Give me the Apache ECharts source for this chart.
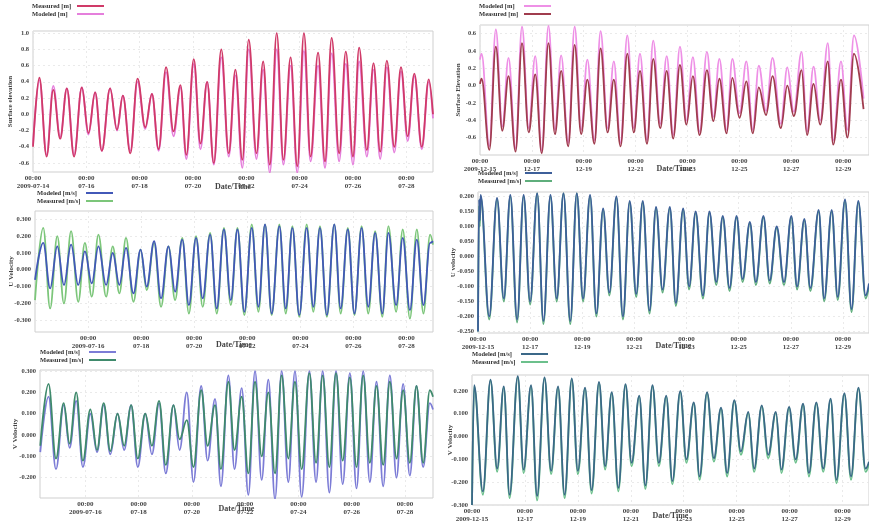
<!DOCTYPE html>
<html><head><meta charset="utf-8">
<script src="https://cdn.jsdelivr.net/npm/echarts@6/dist/echarts.min.js"></script>
<style>html,body{margin:0;padding:0;background:#fff}#c{width:869px;height:523px}</style>
</head><body><div id="c"></div>
<script>
// ---------- tick labels ----------
const xTicksLeft = [0, 2, 4, 6, 8, 10, 12, 14];
const xLabelsLeft = ['2009-07-14', '07-16', '07-18', '07-20', '07-22', '07-24', '07-26', '07-28'];
const xTicksLeftLate = [2, 4, 6, 8, 10, 12, 14];
const xLabelsLeftLate = ['2009-07-16', '07-18', '07-20', '07-22', '07-24', '07-26', '07-28'];
const xTicksRight = [0, 2, 4, 6, 8, 10, 12, 14];
const xLabelsRight = ['2009-12-15', '12-17', '12-19', '12-21', '12-23', '12-25', '12-27', '12-29'];
const yTicksP1 = [-0.6, -0.4, -0.2, 0, 0.2, 0.4, 0.6, 0.8, 1.0];
const yTicksP2 = [-0.6, -0.4, -0.2, 0, 0.2, 0.4, 0.6];
const yTicksP3 = [-0.3, -0.2, -0.1, 0, 0.1, 0.2, 0.3];
const yTicksP4 = [-0.25, -0.2, -0.15, -0.1, -0.05, 0, 0.05, 0.1, 0.15, 0.2];
const yTicksP5 = [-0.2, -0.1, 0, 0.1, 0.2, 0.3];
const yTicksP6 = [-0.3, -0.2, -0.1, 0, 0.1, 0.2];

// ---------- Panel 1: surface elevation, July (days since 2009-07-14 00:00) ----------
const p1Time = [0, 0.24, 0.51, 0.76, 1.02, 1.27, 1.54, 1.83, 2.08, 2.33, 2.58, 2.89, 3.15, 3.37, 3.65, 3.92, 4.21, 4.46, 4.71, 4.99, 5.27, 5.53, 5.75, 6.03, 6.28, 6.53, 6.78, 7.06, 7.34, 7.59, 7.85, 8.09, 8.38, 8.63, 8.88, 9.14, 9.39, 9.66, 9.91, 10.16, 10.41, 10.69, 10.95, 11.20, 11.48, 11.73, 12.0, 12.23, 12.52, 12.77, 13.02, 13.27, 13.55, 13.80, 14.05, 14.30, 14.58, 14.84, 15.0];
const p1Measured = [-0.40, 0.45, -0.52, 0.30, -0.30, 0.32, -0.52, 0.33, -0.23, 0.27, -0.45, 0.32, -0.19, 0.23, -0.48, 0.44, -0.16, 0.25, -0.43, 0.58, -0.21, 0.36, -0.50, 0.68, -0.36, 0.40, -0.60, 0.80, -0.48, 0.55, -0.56, 0.92, -0.48, 0.65, -0.62, 1.00, -0.56, 0.70, -0.64, 1.00, -0.52, 0.76, -0.58, 0.94, -0.48, 0.77, -0.52, 0.82, -0.44, 0.63, -0.46, 0.66, -0.40, 0.58, -0.27, 0.50, -0.40, 0.43, 0.00];
const p1Modeled = [-0.38, 0.42, -0.50, 0.35, -0.28, 0.32, -0.50, 0.33, -0.25, 0.27, -0.45, 0.32, -0.20, 0.23, -0.45, 0.40, -0.18, 0.25, -0.45, 0.52, -0.27, 0.33, -0.55, 0.62, -0.43, 0.40, -0.62, 0.70, -0.52, 0.48, -0.66, 0.80, -0.55, 0.55, -0.72, 0.80, -0.62, 0.60, -0.72, 0.78, -0.58, 0.60, -0.66, 0.75, -0.58, 0.62, -0.62, 0.65, -0.52, 0.55, -0.55, 0.58, -0.47, 0.53, -0.33, 0.47, -0.43, 0.40, -0.05];

// ---------- Panel 2: surface elevation, December (days since 2009-12-15 00:00) ----------
const p2Time = [0, 0.06, 0.36, 0.61, 0.86, 1.10, 1.37, 1.62, 1.88, 2.13, 2.38, 2.64, 2.89, 3.13, 3.40, 3.65, 3.90, 4.14, 4.41, 4.65, 4.92, 5.16, 5.42, 5.68, 5.93, 6.17, 6.44, 6.68, 6.95, 7.20, 7.45, 7.71, 7.96, 8.21, 8.47, 8.75, 9.00, 9.23, 9.51, 9.73, 10.01, 10.27, 10.52, 10.75, 11.03, 11.28, 11.60, 11.85, 12.10, 12.40, 12.61, 12.86, 13.12, 13.41, 13.62, 13.92, 14.17, 14.42, 14.79];
const p2Modeled = [0.30, 0.37, -0.70, 0.65, -0.47, 0.32, -0.72, 0.68, -0.49, 0.34, -0.75, 0.69, -0.51, 0.35, -0.66, 0.68, -0.51, 0.30, -0.63, 0.63, -0.49, 0.28, -0.66, 0.58, -0.49, 0.37, -0.63, 0.52, -0.44, 0.34, -0.57, 0.45, -0.40, 0.33, -0.53, 0.39, -0.36, 0.31, -0.51, 0.31, -0.32, 0.28, -0.51, 0.23, -0.29, 0.32, -0.44, 0.21, -0.30, 0.39, -0.53, 0.22, -0.40, 0.49, -0.63, 0.28, -0.51, 0.58, -0.15];
const p2Measured = [0.02, 0.08, -0.74, 0.45, -0.52, 0.11, -0.76, 0.49, -0.54, 0.13, -0.78, 0.49, -0.56, 0.17, -0.70, 0.47, -0.56, 0.07, -0.67, 0.43, -0.54, 0.07, -0.70, 0.37, -0.54, 0.17, -0.67, 0.31, -0.49, 0.17, -0.61, 0.24, -0.45, 0.11, -0.57, 0.18, -0.41, 0.08, -0.55, 0.09, -0.37, 0.05, -0.55, -0.02, -0.34, 0.11, -0.49, 0.00, -0.35, 0.18, -0.57, 0.02, -0.45, 0.28, -0.68, 0.07, -0.60, 0.37, -0.27];

// ---------- Panel 3: U velocity, July ----------
const p3Time = [0, 0.31, 0.57, 0.84, 1.09, 1.36, 1.63, 1.88, 2.14, 2.39, 2.68, 2.93, 3.18, 3.43, 3.71, 3.98, 4.21, 4.49, 4.75, 5.03, 5.28, 5.55, 5.80, 6.07, 6.32, 6.60, 6.85, 7.12, 7.38, 7.63, 7.89, 8.17, 8.42, 8.67, 8.92, 9.21, 9.45, 9.70, 9.96, 10.24, 10.49, 10.74, 11.00, 11.28, 11.52, 11.79, 12.04, 12.31, 12.56, 12.82, 13.09, 13.32, 13.61, 13.86, 14.13, 14.39, 14.64, 14.89, 15.0];
const p3Modeled = [-0.06, 0.16, -0.11, 0.14, -0.09, 0.15, -0.09, 0.11, -0.08, 0.14, -0.09, 0.10, -0.09, 0.13, -0.14, 0.12, -0.10, 0.17, -0.17, 0.14, -0.13, 0.18, -0.21, 0.19, -0.17, 0.21, -0.23, 0.24, -0.18, 0.24, -0.25, 0.25, -0.22, 0.27, -0.26, 0.26, -0.23, 0.25, -0.27, 0.25, -0.22, 0.25, -0.27, 0.27, -0.23, 0.24, -0.26, 0.25, -0.22, 0.22, -0.26, 0.22, -0.21, 0.19, -0.24, 0.18, -0.21, 0.16, 0.17];
const p3Measured = [-0.18, 0.25, -0.23, 0.20, -0.20, 0.23, -0.19, 0.16, -0.16, 0.21, -0.16, 0.14, -0.14, 0.19, -0.19, 0.12, -0.12, 0.16, -0.22, 0.14, -0.18, 0.19, -0.26, 0.20, -0.22, 0.22, -0.26, 0.25, -0.21, 0.25, -0.27, 0.27, -0.25, 0.27, -0.27, 0.27, -0.26, 0.26, -0.28, 0.27, -0.25, 0.26, -0.28, 0.27, -0.26, 0.25, -0.27, 0.26, -0.26, 0.23, -0.28, 0.26, -0.25, 0.24, -0.29, 0.24, -0.26, 0.21, 0.15];

// ---------- Panel 4: U velocity, December ----------
const p4Time = [0, 0.04, 0.07, 0.10, 0.43, 0.73, 0.99, 1.24, 1.50, 1.75, 2.00, 2.27, 2.51, 2.78, 3.02, 3.28, 3.54, 3.79, 4.03, 4.30, 4.54, 4.80, 5.04, 5.31, 5.56, 5.82, 6.07, 6.32, 6.58, 6.83, 7.08, 7.36, 7.59, 7.87, 8.10, 8.35, 8.63, 8.88, 9.14, 9.39, 9.65, 9.92, 10.15, 10.43, 10.66, 10.95, 11.19, 11.46, 11.74, 12.02, 12.24, 12.52, 12.75, 13.07, 13.28, 13.57, 13.80, 14.08, 14.33, 14.59, 14.87, 15.0];
const p4Modeled = [-0.25, 0.19, 0.12, 0.205, -0.20, 0.195, -0.14, 0.205, -0.21, 0.205, -0.15, 0.21, -0.215, 0.205, -0.14, 0.21, -0.215, 0.21, -0.14, 0.205, -0.19, 0.16, -0.12, 0.20, -0.20, 0.185, -0.125, 0.185, -0.18, 0.165, -0.11, 0.165, -0.155, 0.16, -0.10, 0.15, -0.13, 0.15, -0.085, 0.135, -0.105, 0.135, -0.075, 0.115, -0.085, 0.135, -0.08, 0.10, -0.085, 0.135, -0.10, 0.125, -0.105, 0.155, -0.14, 0.155, -0.135, 0.19, -0.175, 0.185, -0.13, -0.09];
const p4Measured = [-0.25, 0.17, 0.10, 0.20, -0.21, 0.19, -0.15, 0.20, -0.22, 0.20, -0.16, 0.21, -0.225, 0.20, -0.15, 0.21, -0.225, 0.21, -0.15, 0.20, -0.20, 0.155, -0.13, 0.195, -0.21, 0.18, -0.135, 0.18, -0.19, 0.16, -0.12, 0.16, -0.165, 0.155, -0.11, 0.145, -0.14, 0.145, -0.095, 0.13, -0.115, 0.13, -0.085, 0.11, -0.095, 0.13, -0.09, 0.095, -0.095, 0.13, -0.11, 0.12, -0.115, 0.15, -0.15, 0.15, -0.145, 0.185, -0.185, 0.18, -0.14, -0.10];

// ---------- Panel 5: V velocity, July ----------
const p5Time = [0.31, 0.62, 0.90, 1.19, 1.41, 1.66, 1.91, 2.19, 2.44, 2.69, 2.94, 3.21, 3.46, 3.72, 3.97, 4.25, 4.50, 4.77, 5.02, 5.31, 5.54, 5.81, 6.06, 6.35, 6.59, 6.87, 7.09, 7.37, 7.60, 7.87, 8.12, 8.37, 8.62, 8.87, 9.12, 9.37, 9.62, 9.87, 10.12, 10.41, 10.66, 10.91, 11.16, 11.41, 11.66, 11.93, 12.18, 12.43, 12.68, 12.93, 13.18, 13.43, 13.68, 13.93, 14.18, 14.43, 14.68, 14.93, 15.05];
const p5Modeled = [-0.08, 0.18, -0.16, 0.14, -0.06, 0.16, -0.15, 0.10, -0.08, 0.14, -0.09, 0.10, -0.07, 0.14, -0.15, 0.10, -0.09, 0.15, -0.18, 0.14, -0.07, 0.20, -0.22, 0.23, -0.12, 0.17, -0.24, 0.28, -0.16, 0.22, -0.28, 0.30, -0.21, 0.26, -0.30, 0.30, -0.22, 0.30, -0.29, 0.30, -0.22, 0.30, -0.27, 0.30, -0.23, 0.29, -0.25, 0.30, -0.22, 0.25, -0.24, 0.28, -0.20, 0.24, -0.19, 0.23, -0.15, 0.15, 0.12];
const p5Measured = [-0.05, 0.24, -0.11, 0.15, -0.04, 0.20, -0.12, 0.12, -0.07, 0.15, -0.075, 0.10, -0.05, 0.14, -0.11, 0.10, -0.05, 0.16, -0.14, 0.14, -0.02, 0.07, -0.15, 0.21, -0.05, 0.14, -0.16, 0.25, -0.07, 0.18, -0.18, 0.25, -0.10, 0.20, -0.18, 0.28, -0.11, 0.25, -0.16, 0.29, -0.13, 0.28, -0.15, 0.29, -0.12, 0.27, -0.15, 0.28, -0.13, 0.23, -0.14, 0.25, -0.11, 0.21, -0.13, 0.23, -0.13, 0.21, 0.18];

// ---------- Panel 6: V velocity, December ----------
const p6Time = [0, 0.08, 0.41, 0.70, 0.95, 1.20, 1.42, 1.73, 1.95, 2.23, 2.46, 2.74, 2.99, 3.25, 3.50, 3.77, 4.00, 4.27, 4.52, 4.80, 5.03, 5.28, 5.53, 5.80, 6.03, 6.32, 6.55, 6.82, 7.06, 7.34, 7.57, 7.87, 8.10, 8.38, 8.60, 8.88, 9.14, 9.41, 9.64, 9.91, 10.16, 10.44, 10.66, 10.95, 11.19, 11.48, 11.69, 11.98, 12.23, 12.51, 12.73, 13.01, 13.27, 13.55, 13.77, 14.07, 14.32, 14.60, 14.87, 15.0];
const p6Modeled = [-0.30, 0.225, -0.24, 0.25, -0.14, 0.22, -0.255, 0.265, -0.145, 0.225, -0.26, 0.26, -0.15, 0.22, -0.255, 0.255, -0.15, 0.215, -0.235, 0.24, -0.13, 0.195, -0.225, 0.23, -0.115, 0.18, -0.215, 0.225, -0.115, 0.18, -0.195, 0.20, -0.10, 0.15, -0.175, 0.195, -0.095, 0.127, -0.16, 0.16, -0.065, 0.108, -0.14, 0.137, -0.08, 0.108, -0.145, 0.13, -0.10, 0.144, -0.16, 0.15, -0.14, 0.166, -0.19, 0.19, -0.175, 0.215, -0.14, -0.11];
const p6Measured = [-0.30, 0.22, -0.255, 0.245, -0.155, 0.215, -0.27, 0.26, -0.16, 0.22, -0.28, 0.255, -0.165, 0.215, -0.27, 0.25, -0.165, 0.21, -0.25, 0.235, -0.145, 0.19, -0.24, 0.225, -0.13, 0.175, -0.23, 0.22, -0.13, 0.175, -0.21, 0.195, -0.115, 0.145, -0.19, 0.19, -0.11, 0.122, -0.175, 0.155, -0.08, 0.103, -0.155, 0.132, -0.095, 0.103, -0.16, 0.125, -0.115, 0.139, -0.175, 0.145, -0.155, 0.161, -0.205, 0.185, -0.19, 0.21, -0.155, -0.12];

// ---------- layout / styling ----------
const FONT = 'Liberation Serif';
const panels = [
  { grid: {left: 33, top: 31, width: 400, height: 141}, xMin: 0, xMax: 15, xTicks: xTicksLeft, xLabels: xLabelsLeft,
    yMin: -0.71, yMax: 1.025, yTicks: yTicksP1, yDigits: 1, yName: 'Surface elevation', xGap: 11, yGap: 19,
    legend: {left: 32, top: 2, textW: 40},
    series: [{name: 'Measured [m]', t: p1Time, v: p1Measured, color: '#d03a68'},
             {name: 'Modeled [m]', t: p1Time, v: p1Modeled, color: '#e57fdc'}], order: [1, 0] },
  { grid: {left: 480, top: 25, width: 395, height: 130}, xMin: 0, xMax: 15, xTicks: xTicksRight, xLabels: xLabelsRight,
    yMin: -0.8, yMax: 0.7, yTicks: yTicksP2, yDigits: 1, yName: 'Surface Elevation', xGap: 10, yGap: 18,
    legend: {left: 479, top: 2, textW: 40},
    series: [{name: 'Modeled [m]', t: p2Time, v: p2Modeled, color: '#ee90e6'},
             {name: 'Measured [m]', t: p2Time, v: p2Measured, color: '#a03c4e'}], order: [0, 1] },
  { grid: {left: 35, top: 211, width: 398, height: 121}, xMin: 0, xMax: 15, xTicks: xTicksLeftLate, xLabels: xLabelsLeftLate,
    yMin: -0.37, yMax: 0.35, yTicks: yTicksP3, yDigits: 3, yName: 'U Velocity', xGap: 9, yGap: 20,
    legend: {left: 37, top: 189, textW: 44},
    series: [{name: 'Modeled [m/s]', t: p3Time, v: p3Modeled, color: '#4258b8'},
             {name: 'Measured [m/s]', t: p3Time, v: p3Measured, color: '#7cc67a'}], order: [1, 0] },
  { grid: {left: 478, top: 192, width: 395, height: 141}, xMin: 0, xMax: 15, xTicks: xTicksRight, xLabels: xLabelsRight,
    yMin: -0.255, yMax: 0.215, yTicks: yTicksP4, yDigits: 3, yName: 'U velocity', xGap: 9, yGap: 21,
    legend: {left: 478, top: 169, textW: 42},
    series: [{name: 'Modeled [m/s]', t: p4Time, v: p4Modeled, color: '#3d5f9a'},
             {name: 'Measured [m/s]', t: p4Time, v: p4Measured, color: '#5fae7c'}], order: [1, 0] },
  { grid: {left: 40, top: 370, width: 393, height: 128}, xMin: 0.3, xMax: 15.05, xTicks: xTicksLeftLate, xLabels: xLabelsLeftLate,
    yMin: -0.295, yMax: 0.305, yTicks: yTicksP5, yDigits: 3, yName: 'V Velocity', xGap: 7, yGap: 21,
    legend: {left: 40, top: 348, textW: 44},
    series: [{name: 'Modeled [m/s]', t: p5Time, v: p5Modeled, color: '#7c7cd6'},
             {name: 'Measured [m/s]', t: p5Time, v: p5Measured, color: '#3f8a6c'}], order: [0, 1] },
  { grid: {left: 472, top: 375, width: 399, height: 130}, xMin: 0, xMax: 15, xTicks: xTicksRight, xLabels: xLabelsRight,
    yMin: -0.3, yMax: 0.27, yTicks: yTicksP6, yDigits: 3, yName: 'V Velocity', xGap: 7, yGap: 18,
    legend: {left: 472, top: 350, textW: 44},
    series: [{name: 'Modeled [m/s]', t: p6Time, v: p6Modeled, color: '#3b6888'},
             {name: 'Measured [m/s]', t: p6Time, v: p6Measured, color: '#6cc08c'}], order: [1, 0] }
];

const option = {
  animation: false,
  backgroundColor: '#ffffff',
  textStyle: {fontFamily: FONT},
  grid: [], xAxis: [], yAxis: [], legend: [], series: []
};

panels.forEach((p, i) => {
  option.grid.push(Object.assign({show: true, borderColor: '#cfcfcf', borderWidth: 1, backgroundColor: 'transparent'}, p.grid));
  const xt = p.xTicks, xl = p.xLabels;
  option.xAxis.push({
    type: 'value', gridIndex: i, min: p.xMin, max: p.xMax,
    name: 'Date/Time', nameLocation: 'middle', nameGap: p.xGap, nameMoveOverlap: false,
    nameTextStyle: {fontSize: 8, fontWeight: 'bold', color: '#444', fontFamily: FONT},
    axisLine: {show: false}, axisTick: {show: false, customValues: xt},
    axisLabel: {customValues: xt, fontSize: 7, lineHeight: 8, color: '#444', fontWeight: 'bold', margin: 2,
      formatter: v => { const k = xt.findIndex(a => Math.abs(a - v) < 1e-6); return '00:00\n' + (k >= 0 ? xl[k] : ''); }},
    splitLine: {show: true, lineStyle: {color: '#e4e4e4', type: [2, 3], width: 0.8}}
  });
  const yt = p.yTicks;
  option.yAxis.push({
    type: 'value', gridIndex: i, min: p.yMin, max: p.yMax,
    name: p.yName, nameLocation: 'middle', nameGap: p.yGap, nameRotate: 90, nameMoveOverlap: false,
    nameTextStyle: {fontSize: 7, fontWeight: 'bold', color: '#444', fontFamily: FONT},
    axisLine: {show: false}, axisTick: {show: false, customValues: yt},
    axisLabel: {customValues: yt, fontSize: 6.5, color: '#444', fontWeight: 'bold', margin: 4,
      formatter: v => Number(v).toFixed(p.yDigits)},
    splitLine: {show: true, lineStyle: {color: '#e4e4e4', type: [2, 3], width: 0.8}}
  });
  option.legend.push({
    orient: 'vertical', left: p.legend.left, top: p.legend.top, itemGap: 0, align: 'right',
    itemWidth: 27, itemHeight: 2, icon: 'rect', padding: 0, selectedMode: false,
    formatter: '{a|{name}}',
    textStyle: {fontSize: 6.5, color: '#333', fontWeight: 'bold', fontFamily: FONT, lineHeight: 8,
      rich: {a: {width: p.legend.textW, align: 'left', fontSize: 6.5, fontWeight: 'bold', fontFamily: FONT, color: '#333'}}},
    data: p.series.map(s => ({name: s.name, itemStyle: {color: s.color}}))
  });
  p.order.forEach(k => {
    const s = p.series[k];
    option.series.push({
      type: 'line', name: s.name, xAxisIndex: i, yAxisIndex: i,
      data: s.t.map((t, j) => [t, s.v[j]]),
      showSymbol: false, smooth: 0.38, smoothMonotone: 'x',
      lineStyle: {color: s.color, width: 1.8}, itemStyle: {color: s.color},
      clip: true, z: 2
    });
  });
});

const chart = echarts.init(document.getElementById('c'), null, {renderer: 'canvas'});
chart.setOption(option);
</script></body></html>
